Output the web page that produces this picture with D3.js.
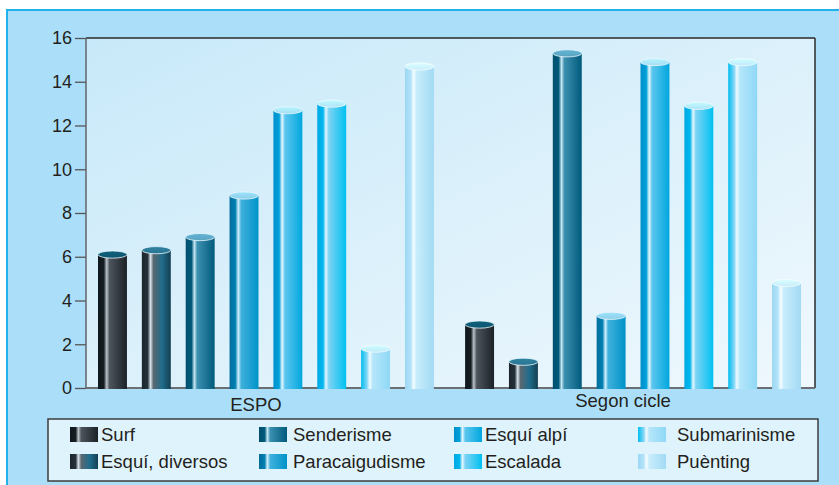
<!DOCTYPE html>
<html><head><meta charset="utf-8">
<script src="https://cdn.jsdelivr.net/npm/d3@7"></script>
<style>
html,body{margin:0;padding:0;background:#ffffff;}
svg{display:block;font-family:"Liberation Sans",Arial,Helvetica,sans-serif;}
</style></head>
<body>
<svg id="chart" width="839" height="485"></svg>
<script>
const groups = ["ESPO", "Segon cicle"];
const seriesNames = ["Surf", "Esquí, diversos", "Senderisme", "Paracaigudisme", "Esquí alpí", "Escalada", "Submarinisme", "Puènting"];
const espoValues = [6.1, 6.3, 6.9, 8.8, 12.7, 13.0, 1.8, 14.7];
const segonValues = [2.9, 1.2, 15.3, 3.3, 14.9, 12.9, 14.9, 4.8];
const yTicks = [0, 2, 4, 6, 8, 10, 12, 14, 16];

// gradient stops per series: [left edge, before highlight, highlight, after highlight, right]
const palettes = [
  {stops:["#0f171c","#141d22","#b8c2c8","#4d545b","#1a2127"], top:"#0d5670", rim:"#e8f6fc"},
  {stops:["#1a252c","#253038","#d5e2e8","#5b6871","#143f52"], top:"#2a7592", rim:"#e8f6fc", mid:"#1f6c8b"},
  {stops:["#00506e","#005a7a","#c5e6f2","#3c90b0","#005a7c"], top:"#5aa3c0", rim:"#e8f6fc"},
  {stops:["#006d9c","#0080b2","#d2f0fb","#3fb0dc","#0093c9"], top:"#8dcde6", rim:"#e8f6fc"},
  {stops:["#0090cc","#00a0da","#e8f8ff","#5cc6ee","#00a7df"], top:"#a5dcf3", rim:"#eaf8fe"},
  {stops:["#00a9e4","#00b7ee","#e6f7fe","#7dd3f4","#00c1f1"], top:"#ade2f7", rim:"#eefaff"},
  {stops:["#00bdf0","#7fd6f6","#f0faff","#b5e6fa","#8fd8f6"], top:"#bde9fb", rim:"#f2fbff"},
  {stops:["#9bd7f3","#b3e3f8","#f4fcff","#c8edfb","#a2daf4"], top:"#c6ecfb", rim:"#f5fcff"}
];

const svg = d3.select("#chart");
const defs = svg.append("defs");

// outer frame
svg.append("rect").attr("x", 7).attr("y", 10).attr("width", 845).attr("height", 490)
  .attr("fill", "#abdff9").attr("stroke", "#22b2ea").attr("stroke-width", 2);

const margin = {left: 86, right: 815, top: 38, bottom: 388};

const bg = defs.append("linearGradient").attr("id", "plotbg")
  .attr("x1", "0%").attr("y1", "0%").attr("x2", "100%").attr("y2", "100%");
bg.append("stop").attr("offset", "0%").attr("stop-color", "#c8e9f9");
bg.append("stop").attr("offset", "100%").attr("stop-color", "#eff8fd");

svg.append("rect").attr("x", margin.left).attr("y", margin.top)
  .attr("width", margin.right - margin.left).attr("height", margin.bottom - margin.top)
  .attr("fill", "url(#plotbg)");

const y = d3.scaleLinear().domain([0, 16]).range([margin.bottom, margin.top]);
const x0 = d3.scaleBand().domain(groups).range([98, 801]).paddingInner(0.085).paddingOuter(0);
const x1 = d3.scaleBand().domain(seriesNames).range([0, x0.bandwidth()]).paddingInner(0.34).paddingOuter(0);

// gradients
palettes.forEach((p, i) => {
  const g = defs.append("linearGradient").attr("id", "bar" + i)
    .attr("x1", "0%").attr("x2", "100%").attr("y1", "0%").attr("y2", "0%");
  const s = p.stops;
  const stops = [[0, s[0]], [0.2, s[1]], [0.3, s[2]], [0.4, s[3]]];
  if (p.mid) stops.push([0.7, p.mid]);
  stops.push([1, s[4]]);
  stops.forEach(([o, c]) => g.append("stop").attr("offset", o).attr("stop-color", c));
  const tg = defs.append("linearGradient").attr("id", "top" + i)
    .attr("x1", "0%").attr("x2", "0%").attr("y1", "0%").attr("y2", "100%");
  tg.append("stop").attr("offset", 0).attr("stop-color", d3.color(p.top).brighter(0.3));
  tg.append("stop").attr("offset", 1).attr("stop-color", p.top);
});

// y axis
const yAxis = d3.axisLeft(y).tickValues(yTicks).tickSize(11).tickPadding(3).tickFormat(d3.format("d"));
const ya = svg.append("g").attr("transform", `translate(${margin.left},0)`).call(yAxis);
ya.select(".domain").remove();
ya.selectAll(".tick line").attr("stroke", "#555").attr("stroke-width", 1.3);
ya.selectAll(".tick text").attr("font-size", 18).attr("fill", "#231f20")
  .attr("font-family", "Liberation Sans, Arial, sans-serif");

// plot frame
svg.append("line").attr("x1", margin.left).attr("x2", margin.right).attr("y1", margin.top).attr("y2", margin.top)
  .attr("stroke", "#2a2a2a").attr("stroke-width", 1.5);
svg.append("line").attr("x1", margin.right).attr("x2", margin.right).attr("y1", margin.top).attr("y2", margin.bottom)
  .attr("stroke", "#2a2a2a").attr("stroke-width", 1.5);
svg.append("line").attr("x1", margin.left).attr("x2", margin.left).attr("y1", margin.top).attr("y2", margin.bottom)
  .attr("stroke", "#5f6468").attr("stroke-width", 1.5);
svg.append("line").attr("x1", margin.left).attr("x2", margin.right).attr("y1", margin.bottom).attr("y2", margin.bottom)
  .attr("stroke", "#6a6f73").attr("stroke-width", 1.8);

// bars
const data = groups.map((g, gi) => ({group: g, values: (gi === 0 ? espoValues : segonValues)}));
const bw = x1.bandwidth();
const ry = 3.6;
data.forEach(d => {
  const gg = svg.append("g").attr("transform", `translate(${x0(d.group)},0)`);
  d.values.forEach((v, i) => {
    const bx = x1(seriesNames[i]);
    gg.append("rect").attr("x", bx).attr("y", y(v)).attr("width", bw).attr("height", y(0) - y(v) + 1)
      .attr("fill", `url(#bar${i})`);
    gg.append("ellipse").attr("cx", bx + bw / 2).attr("cy", y(v)).attr("rx", bw / 2).attr("ry", ry)
      .attr("fill", `url(#top${i})`).attr("stroke", palettes[i].rim).attr("stroke-width", 0.8);
  });
});

// group labels
svg.selectAll(".glabel").data(groups).enter().append("text")
  .attr("x", d => x0(d) + x0.bandwidth() / 2 - 10)
  .attr("y", (d, i) => i === 0 ? 411 : 407)
  .attr("text-anchor", "middle").attr("font-size", 18.5).attr("fill", "#231f20")
  .text(d => d);

// legend
svg.append("rect").attr("x", 48).attr("y", 419).attr("width", 770).attr("height", 62)
  .attr("fill", "#dff3fc").attr("stroke", "#3c3c3c").attr("stroke-width", 1.5);
const colSwatch = [70, 259, 454, 638];
const colText = [101, 293, 485, 677];
const rowY = [427, 454];
seriesNames.forEach((name, i) => {
  const c = Math.floor(i / 2), r = i % 2;
  svg.append("rect").attr("x", colSwatch[c]).attr("y", rowY[r]).attr("width", 28).attr("height", 15)
    .attr("fill", `url(#bar${i})`);
  svg.append("text").attr("x", colText[c]).attr("y", rowY[r] + 14).attr("font-size", 18.5)
    .attr("fill", "#231f20").text(name);
});
</script>
</body></html>
